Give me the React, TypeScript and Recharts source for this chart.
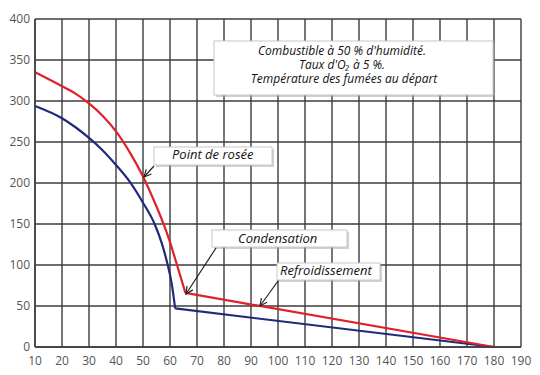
import { LineChart, Line, XAxis, YAxis, CartesianGrid } from "recharts";

// fumes temperature curves; the last point closes the straight cooling part after the kink
const redX = [10, 20, 25, 30, 35, 40, 45, 50, 54, 57.5, 60, 62.6, 65.7, 180];
const redY = [335, 318, 309, 297, 282, 263, 238, 208, 179, 151, 128, 100, 66, 0];
const blueX = [10, 20, 25, 30, 35, 40, 45, 50, 54.3, 57, 59, 60.7, 61.9, 180];
const blueY = [294, 279, 268, 255, 240, 222, 202, 176, 150, 126, 102, 76, 47, 0];

const xTicks = [10, 20, 30, 40, 50, 60, 70, 80, 90, 100, 110, 120, 130, 140, 150, 160, 170, 180, 190];
const yTicks = [0, 50, 100, 150, 200, 250, 300, 350, 400];

const infoLines = ["Combustible à 50 % d'humidité.", "Taux d'O₂ à 5 %.", "Température des fumées au départ"];

const toPoints = (xs: number[], ys: number[]) => xs.map((x, i) => ({ x, y: ys[i] }));
const redPts = toPoints(redX, redY);
const bluePts = toPoints(blueX, blueY);
// curved part up to the kink, straight part after
const redCurve = redPts.slice(0, -1);
const redStraight = redPts.slice(-2);
const blueCurve = bluePts.slice(0, -1);
const blueStraight = bluePts.slice(-2);

const W = 540;
const H = 375;
const FONT = "'Open Sans', 'Noto Sans', sans-serif";
const RED = "#e0202a";
const BLUE = "#1f2a7c";

function Box({ x, y, w, h }: { x: number; y: number; w: number; h: number }) {
  return (
    <g>
      <rect x={x + 2} y={y + 2} width={w} height={h} fill="#9a9a9a" opacity={0.45} />
      <rect x={x} y={y} width={w} height={h} fill="#fff" stroke="#c8c8c8" strokeWidth={1} />
    </g>
  );
}

function Arrow({ x1, y1, x2, y2 }: { x1: number; y1: number; x2: number; y2: number }) {
  const a = Math.atan2(y1 - y2, x1 - x2);
  const len = 8;
  const spread = 0.45;
  const p1 = [x2 + len * Math.cos(a + spread), y2 + len * Math.sin(a + spread)];
  const p2 = [x2 + len * Math.cos(a - spread), y2 + len * Math.sin(a - spread)];
  return (
    <g stroke="#222" strokeWidth={1.2} fill="none">
      <line x1={x1} y1={y1} x2={x2} y2={y2} />
      <polyline points={`${p1[0]},${p1[1]} ${x2},${y2} ${p2[0]},${p2[1]}`} />
    </g>
  );
}

function Annotations() {
  const labelStyle = { fontFamily: FONT, fontStyle: "italic" as const, fontSize: 13, fill: "#111" };
  return (
    <svg width={W} height={H} style={{ position: "absolute", left: 0, top: 0, pointerEvents: "none" }}>
      <Box x={214} y={41} w={279} h={54} />
      <text textAnchor="middle" style={{ ...labelStyle, fontSize: 12 }}>
        <tspan x={342} y={54.5}>{infoLines[0]}</tspan>
        <tspan x={342} y={68.5}>{infoLines[1]}</tspan>
        <tspan x={344} y={82.5}>{infoLines[2]}</tspan>
      </text>

      <Box x={154} y={147} w={118} h={18} />
      <text x={172} y={159} style={labelStyle}>Point de rosée</text>
      <Arrow x1={154} y1={166} x2={144} y2={177} />

      <Box x={212} y={230} w={135} h={17} />
      <text x={238} y={242.5} style={labelStyle}>Condensation</text>
      <Arrow x1={216} y1={248} x2={186} y2={294} />

      <Box x={277} y={263} w={103} h={17} />
      <text x={280} y={275} style={labelStyle}>Refroidissement</text>
      <Arrow x1={278} y1={281} x2={260} y2={306} />
    </svg>
  );
}

export default function App() {
  const tick = { fill: "#555", fontSize: 12, fontFamily: FONT };
  const axisLine = { stroke: "#3c3c3c", strokeWidth: 1.4 };
  return (
    <div style={{ position: "absolute", left: 0, top: 0, width: W, height: H, background: "#fff" }}>
      <LineChart width={W} height={H} margin={{ top: 19, right: 19, left: 0, bottom: 0 }}>
        <CartesianGrid stroke="#3c3c3c" strokeWidth={1.4} />
        <XAxis
          type="number"
          dataKey="x"
          domain={[10, 190]}
          ticks={xTicks}
          height={28}
          tickSize={0}
          tickMargin={9}
          tick={tick}
          axisLine={axisLine}
          interval={0}
          allowDuplicatedCategory={false}
        />
        <YAxis
          type="number"
          domain={[0, 400]}
          ticks={yTicks}
          width={35}
          tickSize={0}
          tickMargin={5}
          tick={tick}
          axisLine={axisLine}
          interval={0}
        />
        <Line data={blueCurve} dataKey="y" type="monotone" stroke={BLUE} strokeWidth={2.2} dot={false} isAnimationActive={false} />
        <Line data={blueStraight} dataKey="y" type="linear" stroke={BLUE} strokeWidth={2.2} dot={false} isAnimationActive={false} />
        <Line data={redCurve} dataKey="y" type="monotone" stroke={RED} strokeWidth={2.2} dot={false} isAnimationActive={false} />
        <Line data={redStraight} dataKey="y" type="linear" stroke={RED} strokeWidth={2.2} dot={false} isAnimationActive={false} />
      </LineChart>
      <Annotations />
    </div>
  );
}
